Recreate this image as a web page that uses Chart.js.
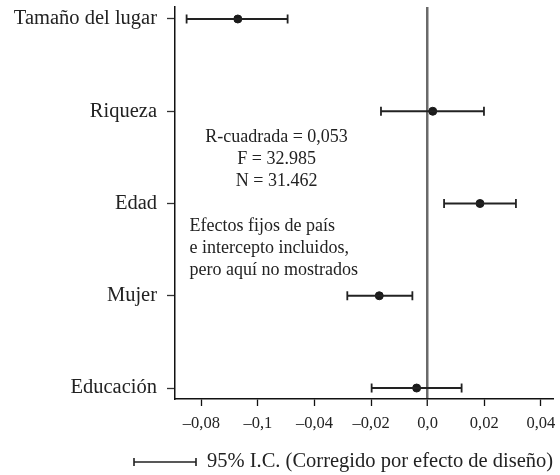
<!DOCTYPE html>
<html>
<head>
<meta charset="utf-8">
<script src="https://cdn.jsdelivr.net/npm/chart.js@4/dist/chart.umd.min.js"></script>
<style>
html,body{margin:0;padding:0;background:#fff;}
#wrap{width:560px;height:475px;position:relative;}
</style>
</head>
<body>
<div id="wrap"><canvas id="c" width="560" height="475"></canvas></div>
<script>
const categories = ['Tamaño del lugar', 'Riqueza', 'Edad', 'Mujer', 'Educación'];
const estimates = [-0.0671, 0.0018, 0.0185, -0.0171, -0.0039];
const lowerCI = [-0.0852, -0.0165, 0.0058, -0.0284, -0.0198];
const upperCI = [-0.0495, 0.0199, 0.0312, -0.0054, 0.0120];
const xTickValues = [-0.08, -0.06, -0.04, -0.02, 0, 0.02, 0.04];
const xTickLabels = ['\u20130,08', '\u20130,1', '\u20130,04', '\u20130,02', '0,0', '0,02', '0,04'];
const statsText = ['R-cuadrada = 0,053', 'F = 32.985', 'N = 31.462'];
const noteText = ['Efectos fijos de país', 'e intercepto incluidos,', 'pero aquí no mostrados'];
const legendText = '95% I.C. (Corregido por efecto de diseño)';

const FONT = '"Liberation Serif", "DejaVu Serif", serif';

const datasets = [];
categories.forEach((c, i) => {
  datasets.push({
    type: 'line',
    data: [{x: lowerCI[i], y: i}, {x: upperCI[i], y: i}],
    borderColor: '#222',
    borderWidth: 1.8,
    pointStyle: 'line',
    pointRotation: 90,
    pointRadius: 4.5,
    pointBorderWidth: 1.8,
    pointBorderColor: '#222',
    fill: false
  });
});
datasets.push({
  type: 'scatter',
  data: estimates.map((v, i) => ({x: v, y: i})),
  backgroundColor: '#1a1a1a',
  borderColor: '#1a1a1a',
  pointRadius: 4,
  pointStyle: 'circle'
});

const textPlugin = {
  id: 'textPlugin',
  afterDraw(chart) {
    const ctx = chart.ctx;
    const xs = chart.scales.x, ys = chart.scales.y;
    ctx.save();
    ctx.fillStyle = '#222';
    ctx.font = '18px ' + FONT;
    ctx.textBaseline = 'middle';
    ctx.textAlign = 'center';
    const sx = xs.getPixelForValue(-0.0534);
    statsText.forEach((t, k) => {
      ctx.fillText(t, sx, ys.getPixelForValue(1.277 + k * 0.243));
    });
    ctx.textAlign = 'left';
    const nx = xs.getPixelForValue(-0.0842);
    noteText.forEach((t, k) => {
      ctx.fillText(t, nx, ys.getPixelForValue(2.252 + k * 0.234));
    });
    // legend
    const ly = 462;
    const lx0 = 134, lx1 = 196;
    ctx.strokeStyle = '#222';
    ctx.lineWidth = 1.6;
    ctx.beginPath();
    ctx.moveTo(lx0, ly); ctx.lineTo(lx1, ly);
    ctx.moveTo(lx0, ly - 4); ctx.lineTo(lx0, ly + 4);
    ctx.moveTo(lx1, ly - 4); ctx.lineTo(lx1, ly + 4);
    ctx.stroke();
    ctx.font = '20.5px ' + FONT;
    ctx.fillText(legendText, 207, ly);
    ctx.restore();
  }
};

new Chart(document.getElementById('c'), {
  data: { datasets },
  options: {
    responsive: false,
    animation: false,
    events: [],
    layout: { padding: { top: 7, right: 7, bottom: 0, left: 0 } },
    plugins: { legend: { display: false }, tooltip: { enabled: false } },
    scales: {
      x: {
        type: 'linear',
        min: -0.0893,
        max: 0.0443,
        afterBuildTicks(scale) { scale.ticks = xTickValues.map(v => ({value: v})); },
        afterFit(scale) { scale.height = 76; scale.paddingLeft = 0; scale.paddingRight = 0; },
        border: { display: true, color: '#111', width: 1.5 },
        grid: {
          drawOnChartArea: true,
          color: (c) => (c.tick && Math.abs(c.tick.value) < 1e-9) ? '#6a6a6a' : 'rgba(0,0,0,0)',
          lineWidth: (c) => (c.tick && Math.abs(c.tick.value) < 1e-9) ? 2.5 : 1,
          tickColor: '#111',
          tickLength: 7,
          tickWidth: 1.3
        },
        ticks: {
          autoSkip: false,
          maxRotation: 0,
          color: '#222',
          padding: 8,
          font: { family: FONT, size: 16.5 },
          callback: (v, idx) => xTickLabels[idx]
        }
      },
      y: {
        type: 'linear',
        reverse: true,
        min: -0.13,
        max: 4.119,
        afterBuildTicks(scale) { scale.ticks = categories.map((c, i) => ({value: i})); },
        afterFit(scale) { scale.width = 175; scale.paddingTop = 0; scale.paddingBottom = 0; },
        border: { display: true, color: '#111', width: 1.5 },
        grid: {
          drawOnChartArea: false,
          tickColor: '#333',
          tickLength: 8,
          tickWidth: 1.3
        },
        ticks: {
          autoSkip: false,
          color: '#222',
          padding: 10,
          font: { family: FONT, size: 20.5 },
          callback: (v, idx) => categories[idx]
        }
      }
    }
  },
  plugins: [textPlugin]
});
</script>
</body>
</html>
